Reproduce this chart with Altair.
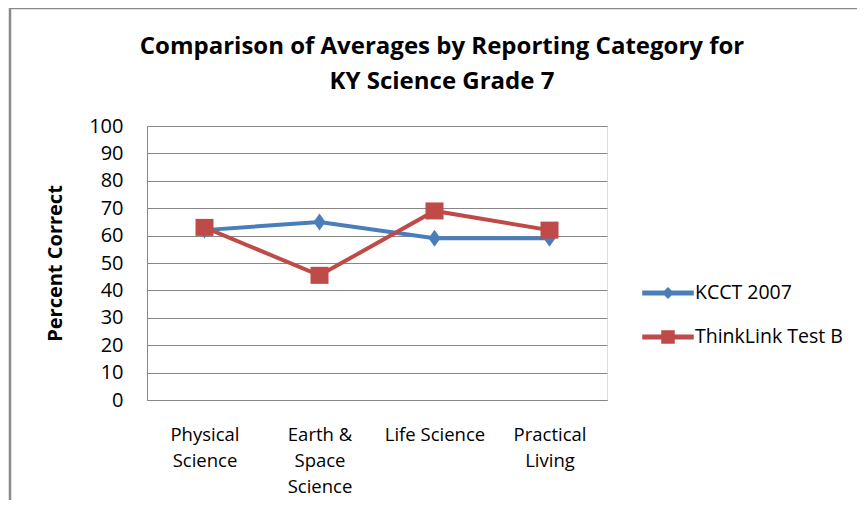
import altair as alt
import pandas as pd

categories = ["Physical\nScience", "Earth &\nSpace\nScience", "Life Science", "Practical\nLiving"]
series_names = ["KCCT 2007", "ThinkLink Test B"]
kcct = [62, 65, 59, 59]
thinklink = [63, 45.5, 69, 62]
y_ticks = [0, 10, 20, 30, 40, 50, 60, 70, 80, 90, 100]
colors = ["#4A7EBB", "#BE4B48"]
title_lines = ["Comparison of Averages by Reporting Category for", "KY Science Grade 7"]

rows = []
for name, vals in zip(series_names, [kcct, thinklink]):
    for c, v in zip(categories, vals):
        rows.append({"category": c, "series": name, "value": v})
df = pd.DataFrame(rows)

diamond = "M0,-0.85L0.6,0L0,0.85L-0.6,0Z"
square = "M-0.9,-0.85H0.9V0.85H-0.9Z"
leg_diamond = "M-2.5,-0.18H2.5V0.18H-2.5Z M0,-0.5L0.5,0L0,0.5L-0.5,0Z"
leg_square = "M-2.5,-0.18H2.5V0.18H-2.5Z M-0.6,-0.6H0.6V0.6H-0.6Z"

color_scale = alt.Scale(domain=series_names, range=colors)
legend_shape_scale = alt.Scale(domain=series_names, range=[leg_diamond, leg_square])

legend = alt.Legend(
    title=None, orient="none", legendX=510, legendY=156, padding=0,
    symbolSize=400, labelOffset=16, rowPadding=23, labelFontSize=19.5,
    labelColor="#000000", labelFont="Open Sans", symbolOpacity=1, labelLimit=300,
)

x_enc = alt.X("category:N", sort=categories, title=None,
              scale=alt.Scale(type="point", padding=0.5),
              axis=alt.Axis(labelExpr="split(datum.label, '\\n')", labelAngle=0,
                            ticks=False, domain=True, domainColor="#878787",
                            labelFontSize=18.5, labelLineHeight=26, labelPadding=25,
                            labelColor="#000000", labelFont="Open Sans", labelBaseline="top"))
y_enc = alt.Y("value:Q", title="Percent Correct",
              scale=alt.Scale(domain=[0, 100], nice=False, zero=True),
              axis=alt.Axis(values=y_ticks, ticks=False, domain=True, domainColor="#878787",
                            gridColor="#878787", gridWidth=1, labelFontSize=20,
                            labelPadding=24, labelColor="#000000", labelFont="Open Sans",
                            titleFontSize=20, titleFont="Open Sans", titleFontWeight="bold",
                            titleColor="#000000", titleX=-92, titleY=137, titleAngle=-90,
                            titleAlign="center", titleBaseline="middle"))

color_enc = alt.Color("series:N", scale=color_scale, legend=legend)

lines = alt.Chart(df).mark_line(strokeWidth=4).encode(
    x=x_enc, y=y_enc, color=color_enc, detail="series:N",
)
pts_a = alt.Chart(df).transform_filter(alt.datum.series == series_names[0]).mark_point(
    filled=True, size=400, opacity=1, shape=diamond
).encode(x=x_enc, y=y_enc, color=color_enc)
pts_b = alt.Chart(df).transform_filter(alt.datum.series == series_names[1]).mark_point(
    filled=True, size=400, opacity=1, shape=square
).encode(x=x_enc, y=y_enc, color=color_enc)
legend_layer = alt.Chart(df).mark_point(
    filled=True, size=400, opacity=0
).encode(
    x=x_enc, y=y_enc,
    color=color_enc,
    shape=alt.Shape("series:N", scale=legend_shape_scale, legend=legend),
)
frame = alt.Chart(alt.Data(values=[{}])).mark_rect(
    filled=False, stroke="#8a8a8a", strokeWidth=2.5
).encode(x=alt.value(-137), x2=alt.value(760), y=alt.value(-118), y2=alt.value(450))

chart = alt.layer(frame, lines, pts_a, pts_b, legend_layer).properties(
    width=460, height=274,
    autosize=alt.AutoSizeParams(type="none"),
    padding={"left": 139, "top": 118, "right": 250, "bottom": 100},
    title=alt.TitleParams(text=title_lines, fontSize=24, font="Open Sans", fontWeight="bold",
                          anchor="middle", dx=65, offset=-87, lineHeight=35, color="#000000"),
).configure_view(strokeWidth=0).configure(font="Open Sans")

chart.save("out.html", embed_options={"renderer": "svg", "actions": False})
